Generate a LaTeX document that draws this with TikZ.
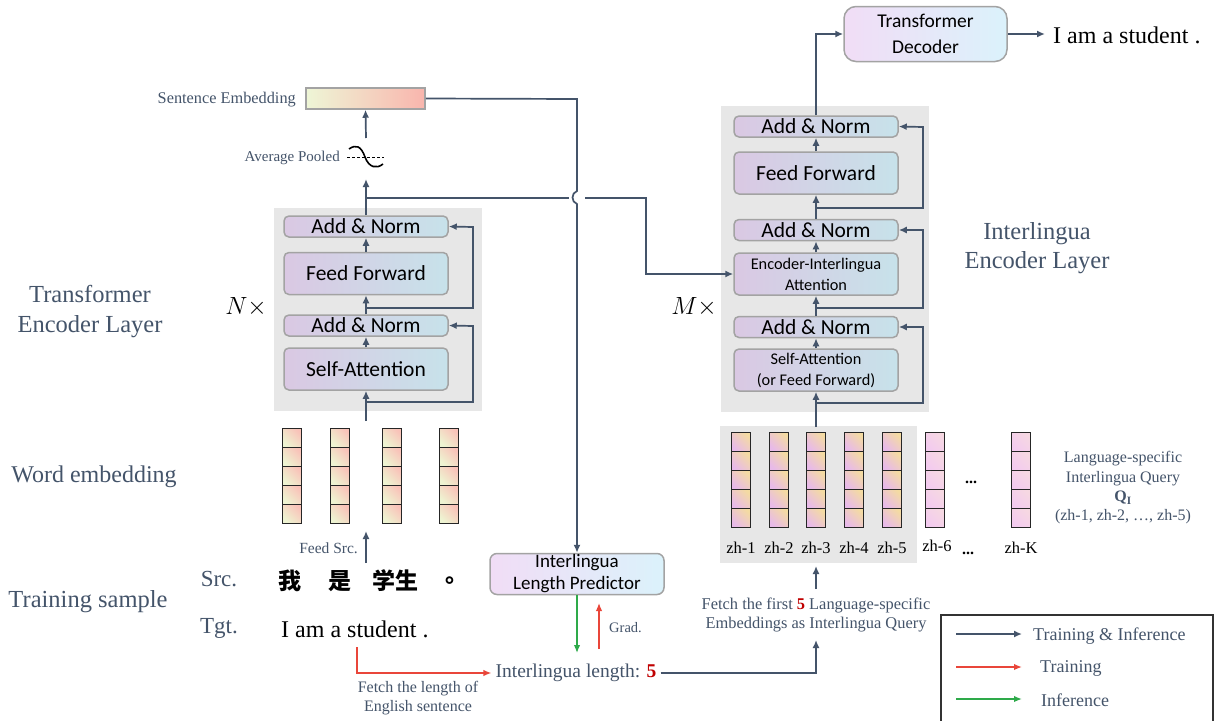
\documentclass[tikz,border=0pt]{standalone}
\usepackage{fontspec}
\setmainfont{Liberation Serif}
\newfontfamily\calfont{Carlito}
\newfontfamily\cjk{Noto Sans CJK SC}
\usetikzlibrary{arrows.meta}
\definecolor{arrc}{HTML}{44546A}
\definecolor{labc}{HTML}{44546A}
\definecolor{redc}{HTML}{E9463A}
\definecolor{darkred}{HTML}{C00000}
\definecolor{greenc}{HTML}{2EAA4A}
\definecolor{bordc}{HTML}{A3A3A3}
\definecolor{lavc}{HTML}{DAC8E3}
\definecolor{cyanc}{HTML}{C7E2EA}
\definecolor{lavl}{HTML}{F1DDF6}
\definecolor{cyanl}{HTML}{DBF2FB}
\definecolor{graybg}{HTML}{E7E7E7}
\definecolor{embg}{HTML}{EEF4D2}
\definecolor{embp}{HTML}{F9C2B8}
\definecolor{qpink}{HTML}{E8BAE8}
\definecolor{qyel}{HTML}{F4DBA2}
\definecolor{qpl}{HTML}{F3CBEF}
\definecolor{qyl}{HTML}{F6D8E2}
\definecolor{sentg}{HTML}{EEF6D6}
\definecolor{sentp}{HTML}{F9B5AD}
\begin{document}
\begin{tikzpicture}[x=1pt,y=-1pt,
  line/.style={draw=arrc, line width=1.7pt},
  arr/.style={draw=arrc, line width=1.7pt, -{Latex[length=8pt,width=7pt]}},
  rarr/.style={draw=redc, line width=1.4pt, -{Latex[length=8pt,width=6.5pt]}},
  garr/.style={draw=greenc, line width=1.4pt, -{Latex[length=8pt,width=6.5pt]}},
  blk/.style={draw=bordc, line width=1.5pt, rounded corners=5pt, left color=lavc, right color=cyanc,
    inner sep=0pt, align=center, minimum width=164pt, text=black},
  anb/.style={blk, minimum height=21pt, font=\calfont\fontsize{21.5}{24}\selectfont},
  bigb/.style={blk, minimum height=42pt, font=\calfont\fontsize{21.5}{24}\selectfont},
  twob/.style={blk, minimum height=42pt, font=\calfont\fontsize{16.3}{21}\selectfont},
  lightb/.style={draw=bordc, line width=1.5pt, rounded corners=10pt, left color=lavl, right color=cyanl,
    inner sep=0pt, align=center, text=black},
  biglbl/.style={text=labc, font=\fontsize{24.5}{29.5}\selectfont, align=center, inner sep=0pt},
  capt/.style={text=labc, font=\fontsize{15.5}{18.5}\selectfont, align=center, inner sep=0pt},
  srccell/.style={draw=black!85, line width=0.9pt, top color=embp, bottom color=embg, shading angle=-45},
  qcell/.style={draw=black!85, line width=0.9pt, top color=qyel, bottom color=qpink, shading angle=-45},
  qlcell/.style={draw=black!85, line width=0.9pt, top color=qyl, bottom color=qpl, shading angle=-45},
  gbg/.style={fill=graybg, draw=none, inner sep=0pt},
  mult/.style={inner sep=0pt, font=\fontsize{24}{28}\selectfont}
]
\useasboundingbox (0,0) rectangle (1215,720);
\fill[white] (0,0) rectangle (1215,720);

% ---------- gray backgrounds ----------
\node[gbg, minimum width=208pt, minimum height=203pt] (lbg) at (378,309.5) {};
\node[gbg, minimum width=208pt, minimum height=306pt] (rbg) at (825,259) {};
\node[gbg, minimum width=197pt, minimum height=137pt] (qbox) at (818.5,494.5) {};

% ---------- left encoder ----------
\node[anb]  (lan1) at (366,226.5) {Add \& Norm};
\node[bigb] (lff)  at (366,273.5) {Feed Forward};
\node[anb]  (lan2) at (366,325.5) {Add \& Norm};
\node[bigb] (lsa)  at (366,369)   {Self-Attention};

\coordinate (lin) at (366,421);
\coordinate (lr1) at (366,402);
\coordinate (lr2) at (366,308);
\coordinate (br) at (366,198);
\coordinate (poolin) at (366,179);
\coordinate (poolout) at (366,138);

\draw[arr] (lin) -- (lsa.south);
\draw[arr] (lsa.north) -- (lan2.south);
\draw[arr] (lan2.north) -- (lff.south);
\draw[arr] (lff.north) -- (lan1.south);
\draw[arr] (lr1) -| (473,326) -- (lan2.east);
\draw[arr] (lr2) -| (473,227) -- (lan1.east);
\draw[arr] (lan1.north) -- (poolin);

\node[mult] (nx) at (246,307) {$N\times$};
\node[biglbl] (tel) at (90,311.5) {Transformer\\Encoder Layer};

% ---------- pooling + sentence embedding ----------
\draw[black, line width=0.9pt, dash pattern=on 3pt off 2pt] (347,157) -- (384,157);
\draw[black, line width=1.6pt] (349,149) .. controls (356,144) and (361,146) .. (365,157) .. controls (369,168) and (377,169) .. (383,164);
\node[capt, anchor=east, font=\fontsize{15}{18}\selectfont] (avg) at (340,158) {Average Pooled};
\node[draw=bordc, line width=1.5pt, left color=sentg, right color=sentp, minimum width=119pt, minimum height=21pt, inner sep=0pt] (sent) at (365.5,98.5) {};
\node[capt, anchor=east, font=\fontsize{16.3}{19}\selectfont] (sentl) at (296,100) {Sentence Embedding};
\draw[arr] (poolout) -- (sent.south);

% ---------- right encoder ----------
\node[anb]  (ran1) at (816,126.5) {Add \& Norm};
\node[bigb] (rff)  at (816,173)   {Feed Forward};
\node[anb]  (ran2) at (816,230)   {Add \& Norm};
\node[twob] (reia) at (816,274)   {Encoder-Interlingua\\Attention};
\node[anb]  (ran3) at (816,327)   {Add \& Norm};
\node[twob] (rsa)  at (816,370)   {Self-Attention\\(or Feed Forward)};

\coordinate (rin) at (816,427);
\coordinate (rr1) at (816,403);
\coordinate (rr2) at (816,308);
\coordinate (rr3) at (816,208);
\draw[arr] (rin) -- (rsa.south);
\draw[arr] (rsa.north) -- (ran3.south);
\draw[arr] (ran3.north) -- (reia.south);
\draw[arr] (reia.north) -- (ran2.south);
\draw[arr] (ran2.north) -- (rff.south);
\draw[arr] (rff.north) -- (ran1.south);
\draw[arr] (rr1) -| (923,327) -- (ran3.east);
\draw[arr] (rr2) -| (923,230) -- (ran2.east);
\draw[arr] (rr3) -| (923,127) -- (ran1.east);

\node[mult] (mx) at (694,307) {$M\times$};
\node[biglbl] (iel) at (1037,248) {Interlingua\\Encoder Layer};

% ---------- decoder ----------
\node[lightb, rounded corners=12pt, minimum width=163pt, minimum height=55pt, font=\calfont\fontsize{19.5}{26}\selectfont] (dec) at (925.5,34) {Transformer\\Decoder};
\draw[arr] (ran1.north) |- (dec.west);
\node[anchor=west, inner sep=0pt, font=\fontsize{24}{28}\selectfont] (outs) at (1053,35) {I am a student .};
\coordinate (outa) at (1045,34);
\draw[arr] (dec.east) -- (outa);

% ---------- cross connectors ----------
\coordinate (brR) at (646,198);
\draw[arr] (br) -- (569,198) (585,198) -- (brR) |- (reia.west);

\node[lightb, rounded corners=7pt, minimum width=174pt, minimum height=41pt, font=\calfont\fontsize{19}{22}\selectfont] (ilp) at (577,574) {Interlingua\\Length Predictor};
\draw[arr] (sent.east) -- (577,99) -- (577,191) .. controls (571,193) and (571,202) .. (577,204) -- (ilp.north);

% ---------- source embeddings ----------
\foreach \x in {292,340,392,449} {
  \foreach \k in {0,...,4} {
    \draw[srccell] (\x-9.5,428+19*\k) rectangle ++(19,19);
  }
}
\node[biglbl, font=\fontsize{24}{28}\selectfont] (we) at (94,477) {Word embedding};
\coordinate (fs1) at (366,563);
\coordinate (fs2) at (366,531);
\draw[arr] (fs1) -- (fs2);
\node[capt, anchor=east, font=\fontsize{15.5}{18}\selectfont] (fsl) at (358,548) {Feed Src.};

% ---------- training sample ----------
\node[biglbl] (ts) at (88,602) {Training sample};
\node[biglbl, font=\fontsize{23}{28}\selectfont] (srcl) at (219,579) {Src.};
\node[biglbl, font=\fontsize{23}{28}\selectfont] (tgtl) at (219,628) {Tgt.};
\node[font=\cjk\bfseries\fontsize{23}{28}\selectfont, inner sep=0pt] (c1) at (290,581) {我};
\node[font=\cjk\bfseries\fontsize{23}{28}\selectfont, inner sep=0pt] (c2) at (340,581) {是};
\node[font=\cjk\bfseries\fontsize{23}{28}\selectfont, inner sep=0pt] (c3) at (395,581) {学生};
\node[font=\cjk\bfseries\fontsize{23}{28}\selectfont, inner sep=0pt] (c4) at (457,581) {。};
\node[anchor=west, inner sep=0pt, font=\fontsize{24}{28}\selectfont] (tgts) at (281,629) {I am a student .};

% ---------- length ----------
\node[text=labc, font=\fontsize{19.5}{23}\selectfont, inner sep=4pt] (ilen) at (576,673) {Interlingua length: \textcolor{darkred}{\textbf{5}}};
\coordinate (tgtc) at (357,647);
\draw[rarr] (tgtc) |- (ilen.west);
\node[capt, font=\fontsize{16}{18.5}\selectfont] (fl) at (418,698) {Fetch the length of\\English sentence};
\coordinate (gend) at (577,653);
\draw[garr] (ilp.south) -- (gend);
\coordinate (gs) at (599,649);
\coordinate (ge) at (599,603);
\draw[rarr] (gs) -- (ge);
\node[capt, anchor=west, font=\fontsize{14.5}{17}\selectfont] (grad) at (609,628) {Grad.};

% ---------- query embeddings ----------
\foreach \x in {741,779,816,854,892} {
  \foreach \k in {0,...,4} {
    \draw[qcell] (\x-9.5,432+19*\k) rectangle ++(19,19);
  }
}
\foreach \x in {935,1021} {
  \foreach \k in {0,...,4} {
    \draw[qlcell] (\x-9.5,432+19*\k) rectangle ++(19,19);
  }
}
\foreach \x/\t in {741/zh-1,779/zh-2,816/zh-3,854/zh-4,892/zh-5,1021/zh-K} {
  \node[inner sep=0pt, font=\fontsize{16.5}{19}\selectfont] (zh\t) at (\x,548) {\t};
}
\node[inner sep=0pt, font=\fontsize{16.5}{19}\selectfont] (zh6) at (937,546) {zh-6};
\node[inner sep=0pt, font=\bfseries\fontsize{16}{19}\selectfont] (dots1) at (971,482) {...};
\node[inner sep=0pt, font=\bfseries\fontsize{16}{19}\selectfont] (dots2) at (968,553) {...};
\node[capt, font=\fontsize{16}{19.3}\selectfont] (lsq) at (1123,488) {Language-specific\\Interlingua Query\\\textbf{Q\textsubscript{I}}\\(zh-1, zh-2, \dots, zh-5)};

\node[capt, font=\fontsize{16.4}{19}\selectfont] (fq) at (816,615) {Fetch the first \textcolor{darkred}{\textbf{5}} Language-specific\\Embeddings as Interlingua Query};
\coordinate (fqtop) at (816,589);
\coordinate (qbot) at (816,566);
\coordinate (fqbot) at (816,640);
\draw[arr] (fqtop) -- (qbot);
\draw[arr] (ilen.east) -| (fqbot);

% ---------- legend ----------
\draw[draw=black!80, line width=1.2pt] (941,615) rectangle (1213,740);
\coordinate (la1) at (956,634); \coordinate (lb1) at (1022,634);
\coordinate (la2) at (956,667); \coordinate (lb2) at (1022,667);
\coordinate (la3) at (956,699); \coordinate (lb3) at (1022,699);
\draw[arr] (la1) -- (lb1);
\draw[rarr, line width=1.7pt] (la2) -- (lb2);
\draw[garr, line width=1.7pt] (la3) -- (lb3);
\node[capt, anchor=west, font=\fontsize{18}{21}\selectfont] (lt1) at (1033,636) {Training \& Inference};
\node[capt, anchor=west, font=\fontsize{18}{21}\selectfont] (lt2) at (1040,668) {Training};
\node[capt, anchor=west, font=\fontsize{18}{21}\selectfont] (lt3) at (1041,700) {Inference};
\end{tikzpicture}
\end{document}
